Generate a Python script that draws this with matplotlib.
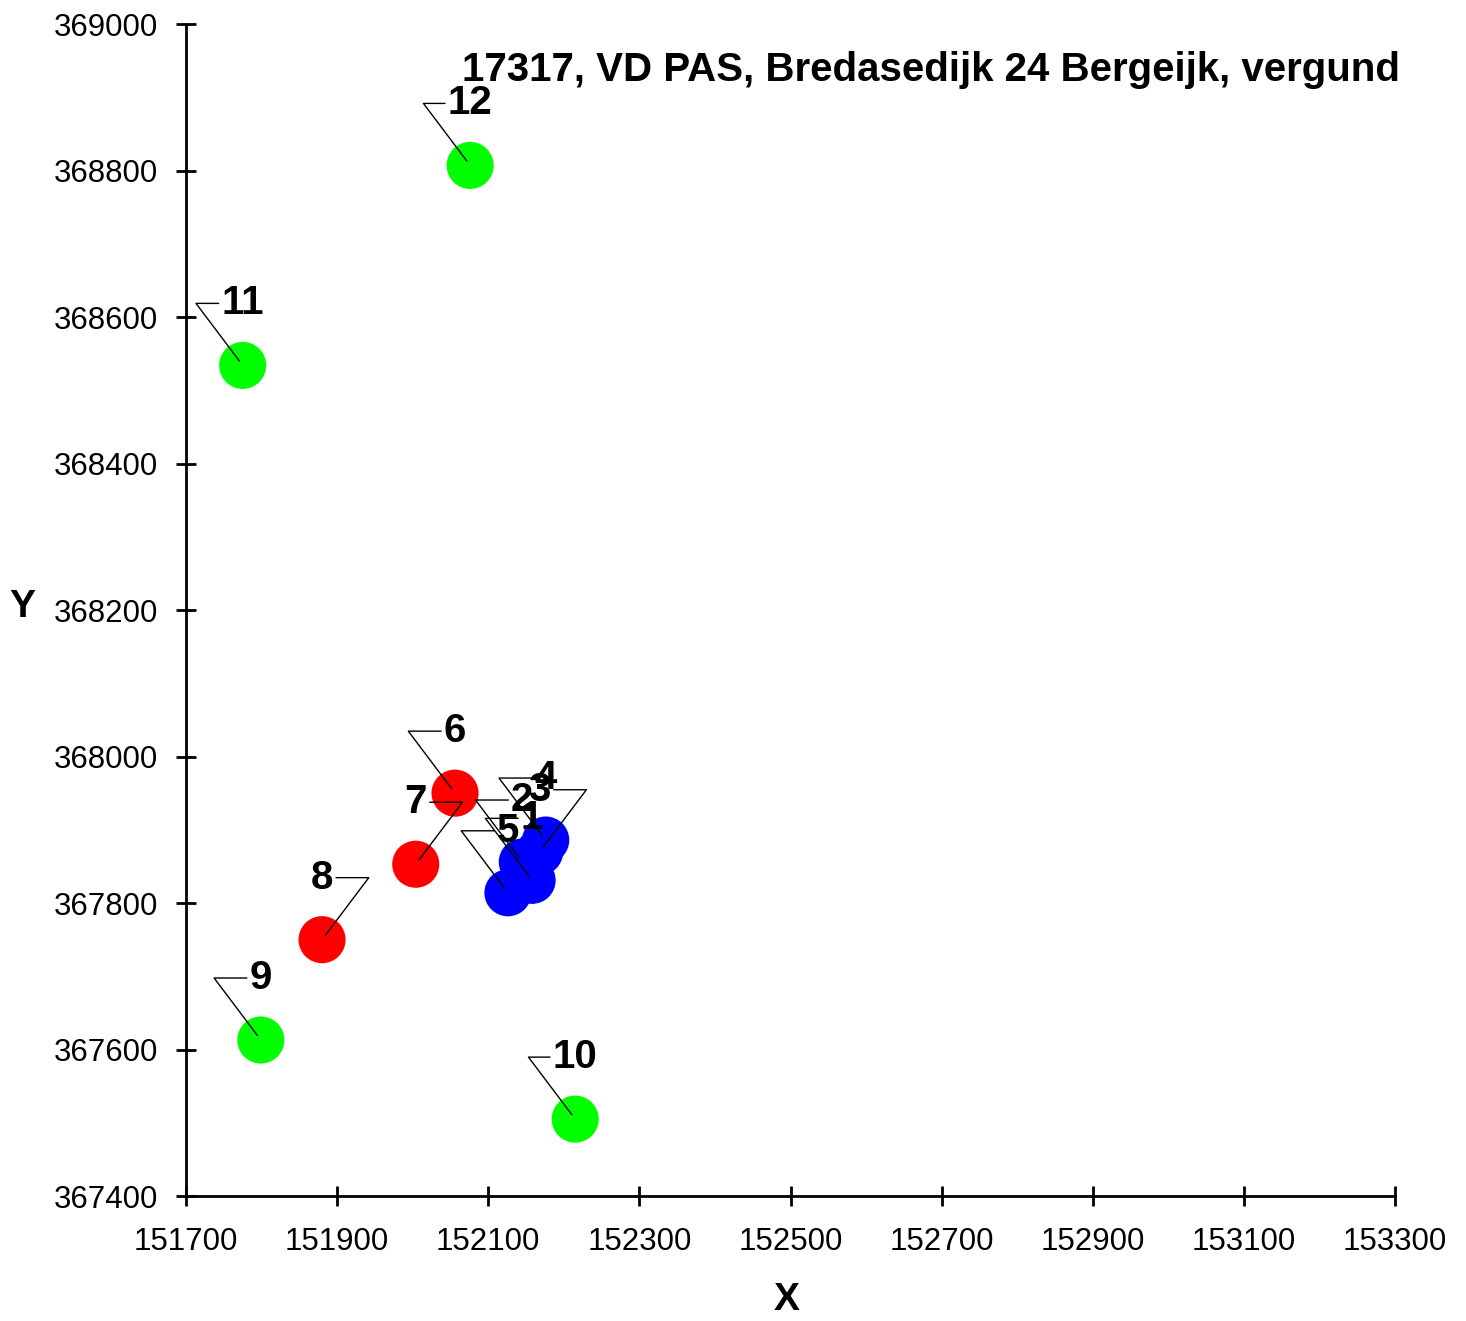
import matplotlib.pyplot as plt

# meetpunten (RD-coordinaten)
labels = ['1', '2', '3', '4', '5', '6', '7', '8', '9', '10', '11', '12']
x_rd = [152158, 152145, 152168, 152176, 152126, 152056, 152004, 151880, 151799, 152215, 151775, 152076]
y_rd = [367831, 367856, 367870, 367886, 367814, 367950, 367853, 367750, 367613, 367505, 368534, 368807]
colors = ['#0000ff'] * 5 + ['#ff0000'] * 3 + ['#00ff00'] * 4
# label links (L) of rechts (R) van de knik in de verbindingslijn
label_side = ['R', 'R', 'L', 'R', 'R', 'R', 'L', 'L', 'R', 'R', 'R', 'R']

x_ticks = list(range(151700, 153301, 200))
y_ticks = list(range(367400, 369001, 200))
title = '17317, VD PAS, Bredasedijk 24 Bergeijk, vergund'

plt.rcParams['font.family'] = ['Liberation Sans', 'DejaVu Sans']

fig = plt.figure(figsize=(14.66, 13.21), dpi=100)
ax = fig.add_axes([0.1269, 0.0946, 0.8247, 0.8872])

ax.scatter(x_rd, y_rd, s=1150, c=colors, edgecolors='none', zorder=2)

for i in range(len(labels)):
    ang = 127 if label_side[i] == 'R' else 53
    ax.annotate(labels[i], xy=(x_rd[i], y_rd[i]), xytext=(0, 62), textcoords='offset pixels',
                ha='center', va='center', fontsize=29, fontweight='bold', zorder=4,
                arrowprops=dict(arrowstyle='-', color='black', lw=1.0, shrinkA=0, shrinkB=4,
                                connectionstyle=f'angle,angleA=0,angleB={ang},rad=0'))

ax.text(0.2283, 0.9608, title, transform=ax.transAxes, ha='left', va='center',
        fontsize=29, fontweight='bold', zorder=5)

ax.set_xlim(151700, 153300)
ax.set_ylim(367400, 369000)
ax.set_xticks(x_ticks)
ax.set_yticks(y_ticks)
ax.spines['top'].set_visible(False)
ax.spines['right'].set_visible(False)
ax.spines['left'].set_linewidth(2)
ax.spines['bottom'].set_linewidth(2)
ax.tick_params(axis='both', direction='inout', length=14, width=2, labelsize=22.5)
ax.tick_params(axis='y', pad=13)
ax.tick_params(axis='x', pad=15)

ax.set_xlabel('X', fontsize=28, fontweight='bold', va='center')
ax.set_ylabel('Y', fontsize=28, fontweight='bold', rotation=0, va='center', ha='center')
ax.xaxis.set_label_coords(0.497, -0.0887)
ax.yaxis.set_label_coords(-0.1356, 0.5026)

fig.savefig('out.png', dpi=100, facecolor='white')
